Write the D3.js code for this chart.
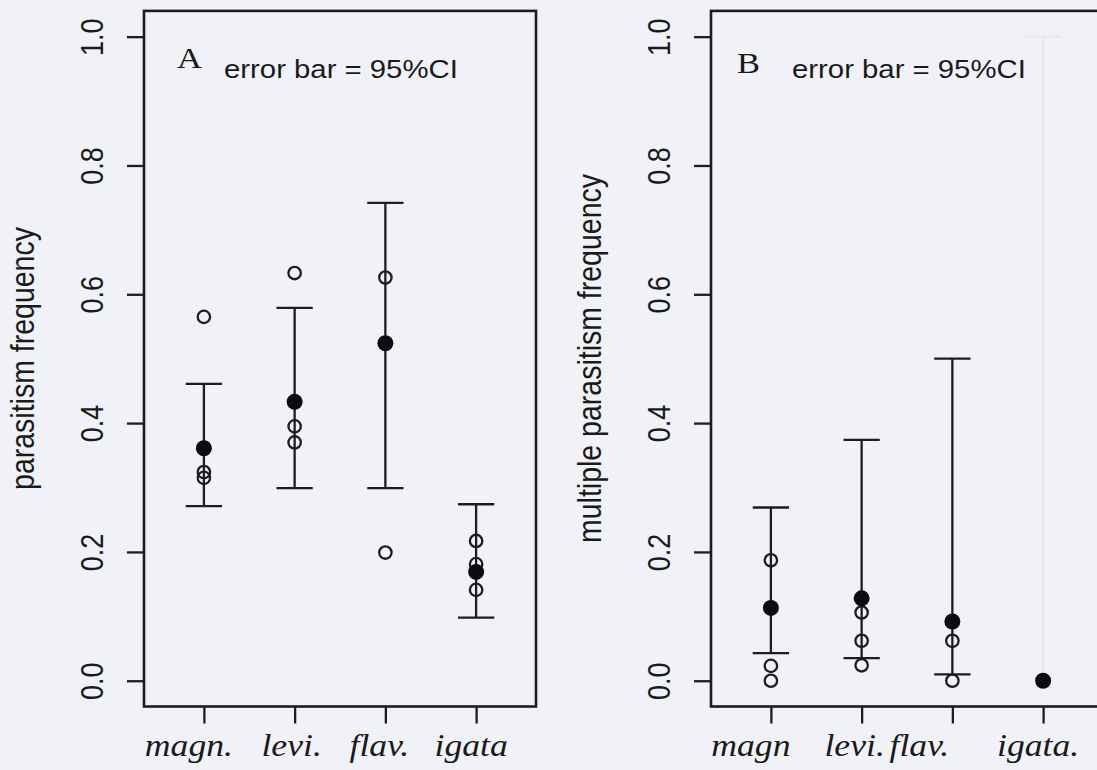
<!DOCTYPE html>
<html>
<head>
<meta charset="utf-8">
<script src="https://cdn.jsdelivr.net/npm/d3@7"></script>
<style>
  html, body { margin: 0; padding: 0; background: #f1f2f7; }
  svg { display: block; }
</style>
</head>
<body>
<div id="chart"></div>
<script>
// categories (as printed under each panel)
const categoriesA = ['magn.', 'levi.', 'flav.', 'igata'];
const categoriesB = ['magn', 'levi.', 'flav.', 'igata.'];

// panel A: parasitism frequency
const meanA = [0.361, 0.433, 0.524, 0.169];
const lowerA = [0.271, 0.299, 0.299, 0.098];
const upperA = [0.461, 0.579, 0.742, 0.274];
const pointsA = [[0.565, 0.324, 0.315], [0.633, 0.395, 0.370], [0.626, 0.199], [0.217, 0.181, 0.141]];

// panel B: multiple parasitism frequency
const meanB = [0.113, 0.128, 0.092, 0.0];
const lowerB = [0.043, 0.035, 0.010, 0.0];
const upperB = [0.269, 0.374, 0.500, 1.0];
const pointsB = [[0.187, 0.023, 0.0], [0.106, 0.062, 0.024], [0.062, 0.0], []];

const yTicks = [0, 0.2, 0.4, 0.6, 0.8, 1.0];

const W = 1097, H = 770;
const ink = '#1f1b20';
const stretch = 1.15; // the scan is a little wider than tall

const svg = d3.select('#chart').append('svg')
    .attr('width', W)
    .attr('height', H);

svg.append('rect')
    .attr('width', W)
    .attr('height', H)
    .attr('fill', '#f1f2f7');

// shared vertical scale (R style 4% padding)
const y = d3.scaleLinear()
    .domain([-0.04, 1.04])
    .range([706.5, 10.9]);

function drawPanel(o) {
    const x = d3.scaleLinear()
        .domain([0.34, 4.66])
        .range([o.left, o.left + 392]);

    const g = svg.append('g');

    // error bars
    o.mean.forEach((m, i) => {
        const faint = o.faint && o.faint.includes(i);
        const col = faint ? '#e3e5ef' : ink;
        const cx = x(i + 1);
        const bar = g.append('g')
            .attr('stroke', col)
            .attr('stroke-width', faint ? 1.8 : 2.3);
        bar.append('line')
            .attr('x1', cx).attr('x2', cx)
            .attr('y1', y(o.lower[i])).attr('y2', y(o.upper[i]));
        [o.lower[i], o.upper[i]].forEach(v => {
            if (faint && v === o.lower[i]) return;
            bar.append('line')
                .attr('x1', x(i + 1 - 0.2)).attr('x2', x(i + 1 + 0.2))
                .attr('y1', y(v)).attr('y2', y(v));
        });
    });

    // individual values (open circles)
    o.points.forEach((vals, i) => {
        g.selectAll(null)
            .data(vals)
            .join('circle')
            .attr('cx', x(i + 1))
            .attr('cy', d => y(d))
            .attr('r', 6.2)
            .attr('fill', 'none')
            .attr('stroke', ink)
            .attr('stroke-width', 2.3);
    });

    // means (filled circles)
    g.selectAll(null)
        .data(o.mean)
        .join('circle')
        .attr('cx', (d, i) => x(i + 1))
        .attr('cy', d => y(d))
        .attr('r', 8)
        .attr('fill', '#0d0b0d');

    // frame
    g.append('rect')
        .attr('x', o.left)
        .attr('y', y(1.04))
        .attr('width', 392)
        .attr('height', y(-0.04) - y(1.04))
        .attr('fill', 'none')
        .attr('stroke', ink)
        .attr('stroke-width', 2.6);

    // y axis
    const yAxis = g.append('g')
        .attr('transform', `translate(${o.left},0)`)
        .call(d3.axisLeft(y).tickValues(yTicks).tickFormat(d3.format('.1f')).tickSize(17));
    yAxis.select('.domain').remove();
    yAxis.selectAll('.tick line').attr('stroke', ink).attr('stroke-width', 2.3);
    yAxis.selectAll('.tick text')
        .attr('x', null)
        .attr('dy', null)
        .attr('text-anchor', 'middle')
        .attr('transform', `translate(-41,0) scale(${stretch},1) rotate(-90)`)
        .attr('fill', '#1a1a1a')
        .style('font-family', '"Liberation Sans", Arial, sans-serif')
        .style('font-size', '27px');

    // x axis: ticks only, labels placed where the scan has them
    const xAxis = g.append('g')
        .attr('transform', `translate(0,${y(-0.04)})`)
        .call(d3.axisBottom(x).tickValues([1, 2, 3, 4]).tickFormat('').tickSize(17));
    xAxis.select('.domain').remove();
    xAxis.selectAll('.tick line').attr('stroke', ink).attr('stroke-width', 2.3);

    g.selectAll(null)
        .data(o.categories)
        .join('text')
        .attr('transform', (d, i) => `translate(${x(i + 1) + o.nudge[i]},756) scale(${stretch},1)`)
        .attr('text-anchor', 'middle')
        .attr('fill', '#1a1a1a')
        .style('font-family', '"Liberation Serif", "Times New Roman", serif')
        .style('font-style', 'italic')
        .style('font-size', '31px')
        .text(d => d);

    // y title
    g.append('text')
        .attr('transform', `translate(${o.left - 110},358.5) scale(${stretch},1) rotate(-90)`)
        .attr('text-anchor', 'middle')
        .attr('fill', '#1a1a1a')
        .style('font-family', '"Liberation Sans", Arial, sans-serif')
        .style('font-size', '28.5px')
        .text(o.title);

    // panel letter and note
    g.append('text')
        .attr('transform', `translate(${o.letterX},${o.letterY}) scale(${stretch},1)`)
        .attr('fill', '#1a1a1a')
        .style('font-family', '"Liberation Serif", "Times New Roman", serif')
        .style('font-size', '30px')
        .text(o.letter);

    g.append('text')
        .attr('transform', `translate(${o.noteX},78) scale(${stretch},1)`)
        .attr('fill', '#1a1a1a')
        .style('font-family', '"Liberation Sans", Arial, sans-serif')
        .style('font-size', '25.5px')
        .text('error bar = 95%CI');
}

drawPanel({
    left: 144,
    categories: categoriesA,
    mean: meanA, lower: lowerA, upper: upperA, points: pointsA,
    nudge: [-15, -3, -6, -5],
    title: 'parasitism frequency',
    letter: 'A', letterX: 177, letterY: 68,
    noteX: 224
});

drawPanel({
    left: 711,
    categories: categoriesB,
    mean: meanB, lower: lowerB, upper: upperB, points: pointsB,
    nudge: [-20, -7, -33, -5],
    faint: [3],
    title: 'multiple parasitism frequency',
    letter: 'B', letterX: 737, letterY: 73,
    noteX: 792
});
</script>
</body>
</html>
